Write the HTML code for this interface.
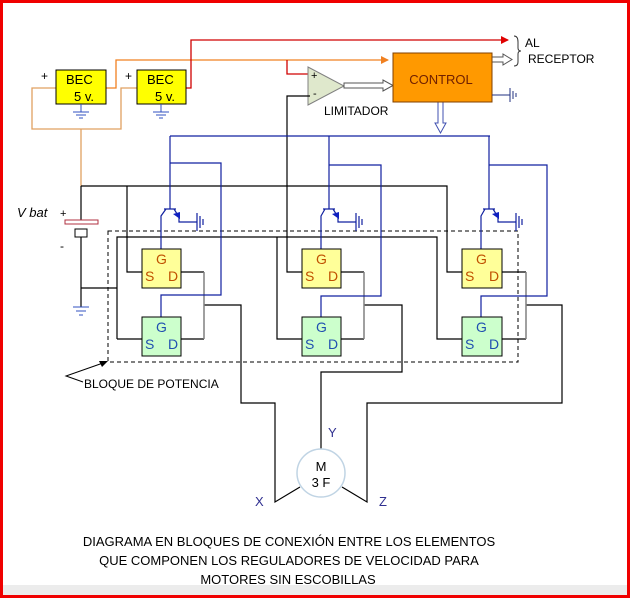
<!DOCTYPE html>
<html><head><meta charset="utf-8"><style>
body{margin:0;background:#fff}
svg{display:block;font-family:"Liberation Sans",sans-serif}
</style></head><body>
<svg width="630" height="598" viewBox="0 0 630 598" xmlns="http://www.w3.org/2000/svg">
<defs>
<marker id="ar" markerWidth="8" markerHeight="8" refX="7" refY="4" orient="auto" markerUnits="userSpaceOnUse"><path d="M0,0 L8,4 L0,8 z" fill="#e00000"/></marker>
<marker id="ao" markerWidth="8" markerHeight="8" refX="7" refY="4" orient="auto" markerUnits="userSpaceOnUse"><path d="M0,0 L8,4 L0,8 z" fill="#f08020"/></marker>
</defs>
<rect x="0" y="0" width="630" height="598" fill="#fff"/>
<rect x="3" y="585" width="624" height="10" fill="#ececec"/>
<rect x="1.5" y="1.5" width="627" height="595" fill="none" stroke="#f00000" stroke-width="3"/>

<g fill="none" stroke="#e0a060" stroke-width="1.3">
<polyline points="56,88 32,88 32,129 121,129 121,88 137,88"/>
<line x1="81" y1="129" x2="81" y2="186"/>
<polyline points="106,88 116,88 116,60 388,60" stroke="#f08020" marker-end="url(#ao)"/>
</g>
<g fill="none" stroke="#d00000" stroke-width="1.3">
<polyline points="186,88 191,88 191,40 508,40" marker-end="url(#ar)"/>
<polyline points="287,60 287,74 310,74"/>
</g>
<rect x="56" y="70" width="50" height="34" fill="#ffff00" stroke="#000"/>
<rect x="137" y="70" width="49" height="34" fill="#ffff00" stroke="#000"/>
<g font-size="13" fill="#000">
<text x="66" y="84">BEC</text><text x="74" y="101">5 v.</text>
<text x="147" y="84">BEC</text><text x="155" y="101">5 v.</text>
<text x="41" y="80" font-size="12">+</text><text x="125" y="80" font-size="12">+</text>
</g>
<g stroke="#3050c0" stroke-width="1">
<line x1="81" y1="104" x2="81" y2="112"/><line x1="73" y1="112" x2="89" y2="112"/><line x1="76" y1="115" x2="86" y2="115"/><line x1="79" y1="118" x2="83" y2="118"/>
<line x1="161" y1="104" x2="161" y2="112"/><line x1="153" y1="112" x2="169" y2="112"/><line x1="156" y1="115" x2="166" y2="115"/><line x1="159" y1="118" x2="163" y2="118"/>
</g>

<polygon points="308,67 344,86 308,105" fill="#dfe8cc" stroke="#808080"/>
<text x="311" y="79" font-size="11">+</text><text x="313" y="97" font-size="11">-</text>
<text x="324" y="115" font-size="12">LIMITADOR</text>
<g fill="#fff" stroke="#555" stroke-width="1">
<path d="M344,83 L383,83 L383,80 L393,85.5 L383,91 L383,88 L344,88 z"/>
<path d="M492,57 L503,57 L503,54 L512,59.5 L503,65 L503,62 L492,62 z"/>
</g>
<path d="M438,102 L438,123 L435,123 L440.5,133 L446,123 L443,123 L443,102" fill="#fff" stroke="#4050b0"/>
<rect x="393" y="53" width="99" height="49" fill="#ff9900" stroke="#804000"/>
<text x="441" y="84" font-size="13" fill="#702000" text-anchor="middle">CONTROL</text>
<g stroke="#203080"><line x1="492" y1="95" x2="510" y2="95"/><line x1="510" y1="88" x2="510" y2="102"/><line x1="513" y1="91" x2="513" y2="99"/><line x1="516" y1="93" x2="516" y2="97"/></g>
<path d="M514,36 Q518,36 518,42 L518,48 Q518,51 521,51 Q518,51 518,54 L518,62 Q518,66 514,66" fill="none" stroke="#333"/>
<text x="525" y="47" font-size="12">AL</text>
<text x="528" y="63" font-size="12">RECEPTOR</text>

<g fill="none" stroke="#000" stroke-width="1.2">
<polyline points="310,96 287,96 287,272 302,272"/>
<polyline points="81,186 447,186 447,272 462,272"/>
<polyline points="127,186 127,272 142,272"/>
<line x1="81" y1="186" x2="81" y2="221"/>
<polyline points="81,237 81,307"/>
<polyline points="81,288 117,288"/>
<polyline points="117,339 117,237 437,237 437,339 462,339"/>
<polyline points="117,339 142,339"/>
<polyline points="277,237 277,339 302,339"/>
<polyline points="181,272 204,272"/><polyline points="181,339 204,339"/>
<polyline points="341,272 364,272"/><polyline points="341,339 364,339"/>
<polyline points="502,272 526,272"/><polyline points="502,339 526,339"/>
<polyline points="204,305 241,305 241,403 275,403 275,502 300,487"/>
<polyline points="364,305 402,305 402,372 321,372 321,449"/>
<polyline points="526,305 562,305 562,403 367,403 367,502 342,487"/>
</g>
<g stroke="#808080" stroke-width="1.5"><line x1="204" y1="272" x2="204" y2="339"/><line x1="364" y1="272" x2="364" y2="339"/><line x1="526" y1="272" x2="526" y2="339"/></g>

<rect x="65" y="220" width="33" height="4" fill="#fff" stroke="#b03040"/>
<rect x="75" y="229" width="12" height="8" fill="#fff" stroke="#000"/>
<g stroke="#3050c0"><line x1="73" y1="307" x2="89" y2="307"/><line x1="76" y1="311" x2="86" y2="311"/><line x1="79" y1="315" x2="83" y2="315"/></g>
<text x="17" y="217" font-size="13" font-style="italic">V bat</text>
<text x="60" y="217" font-size="11">+</text><text x="60" y="250" font-size="12">-</text>

<rect x="108" y="231" width="410" height="131" fill="none" stroke="#000" stroke-dasharray="4,3"/>
<polyline points="103,363 66,376 83,382" fill="none" stroke="#000"/>
<path d="M108,361 L99,361 L102,367 z" fill="#000"/>
<text x="84" y="388" font-size="12">BLOQUE DE POTENCIA</text>

<g fill="none" stroke="#1020a0" stroke-width="1.2">
<line x1="170" y1="136" x2="490" y2="136"/>
<polyline points="170,136 170,209"/><polyline points="170,163 221,163 221,295 161,295 161,317"/>
<polyline points="329,136 329,209"/><polyline points="329,165 381,165 381,296 321,296 321,317"/>
<polyline points="489,136 489,209"/><polyline points="489,165 547,165 547,296 481,296 481,317"/>
</g>
<g fill="none" stroke="#1020a0" stroke-width="1.2">
<path d="M164,209 L176,209 M166,209 L161,216 L161,249 M174,209 L179,217 L179,222 L197,222 M197,213 L197,231 M200,216 L200,228 M203,219 L203,225"/>
<path d="M323,209 L335,209 M325,209 L321,216 L321,249 M333,209 L338,217 L338,222 L356,222 M356,213 L356,231 M359,216 L359,228 M362,219 L362,225"/>
<path d="M483,209 L495,209 M485,209 L481,216 L481,249 M493,209 L498,217 L498,222 L516,222 M516,213 L516,231 M519,216 L519,228 M522,219 L522,225"/>
</g>
<g fill="#1020c0"><path d="M180,219 L173,214 L180,212 z"/><path d="M339,219 L332,214 L339,212 z"/><path d="M499,219 L492,214 L499,212 z"/></g>

<g stroke="#000">
<rect x="142" y="249" width="39" height="39" fill="#ffff99"/><rect x="142" y="317" width="39" height="39" fill="#ccffcc"/>
<rect x="302" y="249" width="39" height="39" fill="#ffff99"/><rect x="302" y="317" width="39" height="39" fill="#ccffcc"/>
<rect x="462" y="249" width="40" height="39" fill="#ffff99"/><rect x="462" y="317" width="40" height="39" fill="#ccffcc"/>
</g>
<g font-size="14" fill="#c05000">
<text x="156" y="264">G</text><text x="145" y="281">S</text><text x="168" y="281">D</text>
<text x="316" y="264">G</text><text x="305" y="281">S</text><text x="328" y="281">D</text>
<text x="476" y="264">G</text><text x="465" y="281">S</text><text x="489" y="281">D</text>
</g>
<g font-size="14" fill="#2050b0">
<text x="156" y="332">G</text><text x="145" y="349">S</text><text x="168" y="349">D</text>
<text x="316" y="332">G</text><text x="305" y="349">S</text><text x="328" y="349">D</text>
<text x="476" y="332">G</text><text x="465" y="349">S</text><text x="489" y="349">D</text>
</g>

<circle cx="321" cy="473" r="24" fill="#fff" stroke="#c0d4e4" stroke-width="1.5"/>
<text x="321" y="471" font-size="13" text-anchor="middle">M</text>
<text x="321" y="487" font-size="13" text-anchor="middle">3  F</text>
<g font-size="13" fill="#303090"><text x="255" y="506">X</text><text x="328" y="437">Y</text><text x="379" y="506">Z</text></g>

<g font-size="13" text-anchor="middle" fill="#000">
<text x="289" y="546">DIAGRAMA EN BLOQUES DE CONEXIÓN ENTRE LOS ELEMENTOS</text>
<text x="289" y="565">QUE COMPONEN LOS REGULADORES DE VELOCIDAD PARA</text>
<text x="288" y="584">MOTORES SIN ESCOBILLAS</text>
</g>
</svg>
</body></html>
